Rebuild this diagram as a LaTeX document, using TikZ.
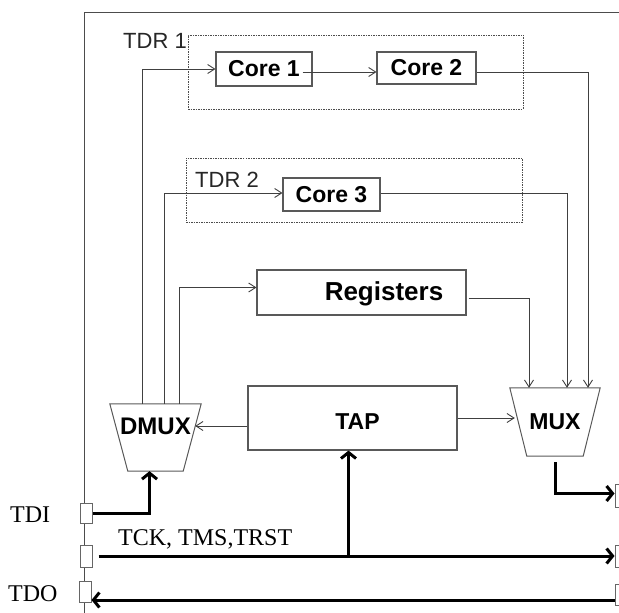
\documentclass[tikz,border=0pt]{standalone}
\usepackage{fontspec}
\setmainfont{Liberation Serif}
\setsansfont{Liberation Sans}
\usetikzlibrary{arrows.meta}
\begin{document}
\begin{tikzpicture}[x=1pt,y=-1pt,
  conn/.style={draw=black!75, line width=0.9pt},
  arr/.style={conn, -{Straight Barb[length=7pt,width=9pt]}},
  thickarr/.style={draw=black, line width=3pt, -{Straight Barb[length=6pt,width=15pt]}},
  box/.style={draw=black!65, line width=1.1pt, fill=white, inner sep=0pt,
    font=\sffamily\bfseries\fontsize{23}{23}\selectfont},
  dashbox/.style={draw=black!70, dash pattern=on 1.5pt off 1pt, line width=1pt, inner sep=0pt},
  pad/.style={draw=black!60, line width=1pt, fill=white, minimum width=12pt, inner sep=0pt},
  muxnode/.style={inner sep=0pt, font=\sffamily\bfseries\fontsize{23}{23}\selectfont},
  muxline/.style={draw=black!65, line width=1pt, line join=miter},
  lbl/.style={font=\sffamily\fontsize{22}{22}\selectfont, text=black!85, inner sep=0pt},
  sig/.style={font=\fontsize{24}{24}\selectfont, inner sep=0pt}
]
\useasboundingbox (0,0) rectangle (619,613);

% outer frame
\draw[draw=black!70, line width=1pt] (84,613) -- (84,12) -- (630,12);

% TDR boxes
\node[dashbox, minimum width=335pt, minimum height=74pt] (tdr1) at (355.5,72) {};
\node[dashbox, minimum width=336pt, minimum height=64pt] (tdr2) at (354,190) {};
\node[lbl, anchor=base west] (tdr1lbl) at (123,48) {TDR 1};
\node[lbl, anchor=base west] (tdr2lbl) at (195,187) {TDR 2};

% blocks
\node[box, minimum width=96pt, minimum height=34pt] (core1) at (264,69) {Core 1};
\node[box, minimum width=99pt, minimum height=32pt] (core2) at (426.5,68) {Core 2};
\node[box, minimum width=97pt, minimum height=33pt] (core3) at (331.5,194.5) {Core 3};
\node[box, minimum width=209pt, minimum height=45pt] (reg) at (361.5,292.5) {};
\node[font=\sffamily\bfseries\fontsize{26}{26}\selectfont, inner sep=0pt, anchor=base] (regtxt) at (384,300) {Registers};
\node[box, minimum width=209pt, minimum height=64pt, text height=23pt, text depth=0pt] (tap) at (352.5,418) {\hspace*{10pt}TAP};

% DMUX / MUX (trapezoids)
\node[muxnode, minimum width=91pt, minimum height=67pt,
  font=\sffamily\bfseries\fontsize{24}{24}\selectfont, text height=17pt, text depth=23pt] (dmux) at (155.5,437.5) {DMUX};
\draw[muxline] (dmux.north west) -- (dmux.north east) -- ([xshift=-18pt]dmux.south east)
  -- ([xshift=18pt]dmux.south west) -- cycle;
\node[muxnode, minimum width=90pt, minimum height=68pt] (mux) at (555,422) {MUX};
\draw[muxline] (mux.north west) -- (mux.north east) -- ([xshift=-17pt]mux.south east)
  -- ([xshift=17pt]mux.south west) -- cycle;

% pads
\node[pad, minimum height=20pt] (tdipad) at (86,513) {};
\node[pad, minimum height=22pt] (tckpad) at (86,556) {};
\node[pad, minimum height=21pt] (tdopad) at (85,591.5) {};
\node[pad, minimum height=23pt] (tdir) at (621,495.5) {};
\node[pad, minimum height=22pt] (tckr) at (621,556) {};
\node[pad, minimum height=21pt] (tdor) at (621,594.5) {};

% signal labels
\node[sig, anchor=base west] (tdilbl) at (10,522) {TDI};
\node[sig, anchor=base west] (tdolbl) at (8,601) {TDO};
\node[sig, anchor=base west] (tcklbl) at (118,545) {TCK, TMS,TRST};

% helper columns
\coordinate (v1) at (142,0);
\coordinate (v2) at (164,0);
\coordinate (v3) at (179,0);
\coordinate (w1) at (529,0);
\coordinate (w2) at (567,0);
\coordinate (w3) at (588,0);
\coordinate (tdoline) at (0,600);

% thin connectors
\draw[arr] (dmux.north -| v1) |- (core1.west);
\draw[arr] (dmux.north -| v2) |- ([yshift=1.5pt]core3.west);
\draw[arr] (dmux.north -| v3) |- ([yshift=5pt]reg.west);
\draw[arr] ([xshift=-10pt,yshift=-3pt]core1.east) -- ([yshift=-3pt]core1.east -| core2.west);
\draw[arr] ([yshift=-4pt]core2.east) -| (mux.north -| w3);
\draw[arr] ([yshift=1.5pt]core3.east) -| (mux.north -| w2);
\draw[arr] ([xshift=2pt,yshift=-5.5pt]reg.east) -| (mux.north -| w1);
\draw[arr] (tap.east) -- ([xshift=5pt]tap.east -| mux.west);
\draw[arr] ([yshift=-8pt]tap.west) -- ([xshift=-6pt,yshift=-8pt]tap.west -| dmux.east);

% thick connectors
\draw[thickarr] (tdipad.east) -| ([xshift=-6pt]dmux.south);
\draw[thickarr] ([xshift=6pt]tckpad.east) -- (tckr.west);
\draw[thickarr] ([xshift=-4pt]tap.south |- tckpad) -- ([xshift=-4pt]tap.south);
\draw[thickarr] ([yshift=-6pt]mux.south) |- ([yshift=2pt]tdir.west);
\draw[thickarr] (tdor.west |- tdoline) -- (tdopad.east |- tdoline);
\end{tikzpicture}
\end{document}
